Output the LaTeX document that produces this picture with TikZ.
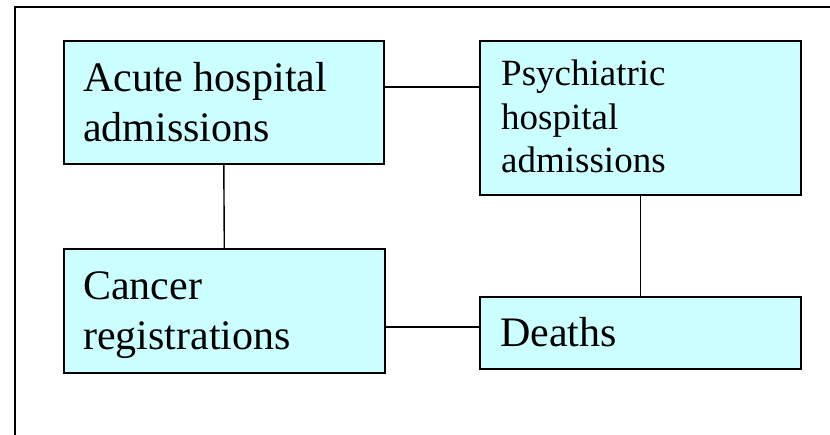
\documentclass[tikz,border=0pt]{standalone}
\usepackage{fontspec}
\setmainfont{Liberation Serif}
\definecolor{boxcyan}{HTML}{CCFFFF}
\begin{document}
\begin{tikzpicture}[x=1pt,y=-1pt,
  box/.style={draw=black, line width=1.6pt, fill=boxcyan, inner sep=0pt, anchor=north west},
  lbl/.style={anchor=base west, inner sep=0pt, align=left},
  conn/.style={draw=black, line width=1.4pt},
  frame/.style={draw=black, line width=1.6pt}]
\useasboundingbox (0,0) rectangle (830,435);
\draw[frame] (15,435) -- (15,7) -- (830,7);
% boxes
\node[box, minimum width=320pt, minimum height=123pt] (A) at (63,40) {};
\node[box, minimum width=321pt, minimum height=154pt] (P) at (479,40) {};
\node[box, minimum width=321pt, minimum height=124pt] (C) at (63,248) {};
\node[box, minimum width=321pt, minimum height=72pt] (D) at (479,296) {};
% labels
\node[lbl, font=\fontsize{42}{50}\selectfont] (tA) at (83,142) {Acute hospital\\admissions};
\node[lbl, font=\fontsize{37}{43.5}\selectfont] (tP) at (501,173) {Psychiatric\\hospital\\admissions};
\node[lbl, font=\fontsize{42}{50}\selectfont] (tC) at (83,350) {Cancer\\registrations};
\node[lbl, font=\fontsize{42}{50}\selectfont] (tD) at (500,347) {Deaths};
% connectors
\coordinate (yap) at (0,87);
\coordinate (ycd) at (0,327);
\draw[conn] (A.east |- yap) -- (P.west |- yap);
\draw[conn] (C.east |- ycd) -- (D.west |- ycd);
\draw[conn] (A.south) -- (C.north);
\draw[conn] (P.south) -- (D.north);
\end{tikzpicture}
\end{document}
